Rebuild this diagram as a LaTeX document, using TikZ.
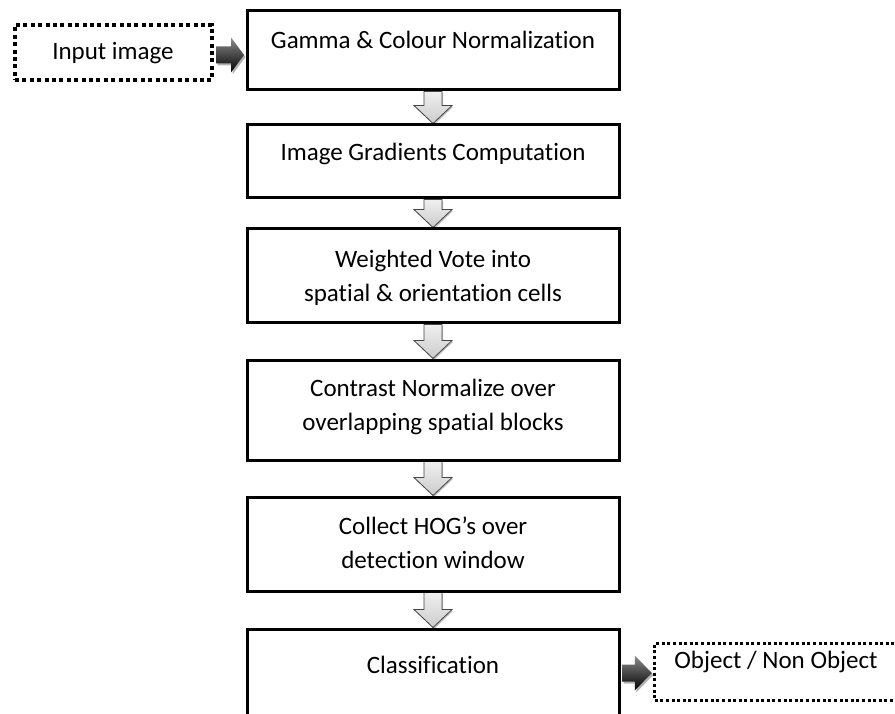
\documentclass[tikz,border=0pt]{standalone}
\usepackage{fontspec}
\setmainfont{Carlito}[Ligatures=NoCommon]
\usetikzlibrary{calc,shadows}
\pgfdeclarelayer{bg}
\pgfsetlayers{bg,main}

\tikzset{
  stagebox/.style={draw=black, line width=3pt, rectangle, inner sep=0pt, minimum width=372pt},
  stagetext/.style={font=\fontsize{25}{34.5}\selectfont, align=center, inner sep=0pt, anchor=north},
  plaintext/.style={font=\fontsize{25}{34.5}\selectfont, inner sep=0pt, anchor=base},
  inputbox/.style={draw=black, line width=4pt, dash pattern=on 4pt off 3.4pt, rectangle, inner sep=0pt},
  outputbox/.style={draw=black, line width=3pt, dash pattern=on 3pt off 2.6pt, rectangle, inner sep=0pt},
  flowarrow/.style={draw=gray!55!black, line width=0.8pt, top color=gray!12, bottom color=gray!40,
    drop shadow={shadow xshift=1pt, shadow yshift=-1.5pt, opacity=0.25, fill=black}},
  sidearrow/.style={top color=black!45, bottom color=black, draw=none,
    drop shadow={shadow xshift=1.5pt, shadow yshift=-2pt, opacity=0.3, fill=black}},
}

% hollow block arrow pointing down from one stage to the next
\newcommand\flowstep[2]{%
  \path[flowarrow] let \p1=(#1.south), \p2=(#2.north) in
    ({\x2-9pt},\y1) -- ({\x2+9pt},\y1) -- ({\x2+9pt},{\y2+18pt}) -- ({\x2+19pt},{\y2+18pt})
    -- (\x2,\y2) -- ({\x2-19pt},{\y2+18pt}) -- ({\x2-9pt},{\y2+18pt}) -- cycle;}

% solid black block arrow pointing right: start point, tip point, head length
\newcommand\sidestep[3]{%
  \path[sidearrow] let \p1=#1, \p2=#2 in
    (\x1,{\y1+8.5pt}) -- ({\x2-#3},{\y1+8.5pt}) -- ({\x2-#3},{\y1+17.5pt}) -- (\x2,\y1)
    -- ({\x2-#3},{\y1-17.5pt}) -- ({\x2-#3},{\y1-8.5pt}) -- (\x1,{\y1-8.5pt}) -- cycle;}

\begin{document}
\begin{tikzpicture}[x=1pt,y=-1pt]
\useasboundingbox (0,0) rectangle (895,714);
\clip (0,0) rectangle (895,714);
\begin{pgfonlayer}{bg}
  \fill[white] (0,0) rectangle (895,714);
\end{pgfonlayer}

% processing stages
\node[stagebox, minimum height=79pt]  (g1) at (433,50.5)  {};
\node[stagebox, minimum height=73pt]  (g2) at (433,161.5) {};
\node[stagebox, minimum height=94pt]  (g3) at (433,276)   {};
\node[stagebox, minimum height=100pt] (g4) at (433,410)   {};
\node[stagebox, minimum height=94pt]  (g5) at (433,544)   {};
\node[stagebox, minimum height=111pt] (g6) at (433,684.5) {};

\node[stagetext] (t1) at (433,30.5)  {Gamma \& Colour Normalization};
\node[stagetext] (t2) at (433,142.5) {Image Gradients Computation};
\node[stagetext] (t3) at (433,249.5) {Weighted Vote into\\spatial \& orientation cells};
\node[stagetext] (t4) at (433,378.5) {Contrast Normalize over\\overlapping spatial blocks};
\node[stagetext] (t5) at (433,516.5) {Collect HOG’s over\\detection window};
\node[stagetext] (t6) at (433,655.5) {Classification};

% input and output
\node[inputbox, minimum width=197pt, minimum height=55pt] (inp) at (113.5,52.5) {};
\node[plaintext] (inptext) at (113,60) {Input image};
\node[outputbox, minimum width=242.5pt, minimum height=57pt] (obj) at (776,672) {};
\node[plaintext] (objtext) at (776,668) {Object / Non Object};

\begin{pgfonlayer}{bg}
  \flowstep{g1}{g2}
  \flowstep{g2}{g3}
  \flowstep{g3}{g4}
  \flowstep{g4}{g5}
  \flowstep{g5}{g6}
  \sidestep{($(inp.east)+(2pt,-2.5pt)$)}{($(g1.west)-(1.5pt,0pt)$)}{13pt}
  \sidestep{($(g6.east |- obj.west)+(1.5pt,-1pt)$)}{($(obj.west)-(1.5pt,0pt)$)}{17pt}
\end{pgfonlayer}
\end{tikzpicture}
\end{document}
